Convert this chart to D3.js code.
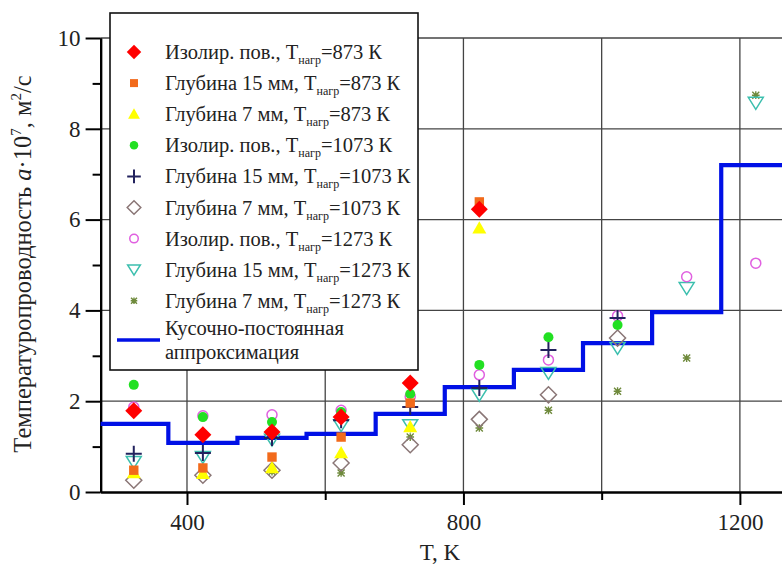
<!DOCTYPE html>
<html><head><meta charset="utf-8">
<script src="https://cdn.jsdelivr.net/npm/d3@7/dist/d3.min.js"></script>
<style>body{margin:0;background:#fff}svg{display:block}</style>
</head><body>
<svg id="c" width="782" height="567"></svg>
<script>
// ---- data ----
const temps = [323, 423, 523, 623, 723, 823, 923, 1023, 1123, 1223];
const isol873  = [1.79, 1.26, 1.32, 1.65, 2.40, 6.23, null, null, null, null];
const d15_873  = [0.48, 0.53, 0.77, 1.21, 1.96, 6.39, null, null, null, null];
const d7_873   = [0.42, 0.40, 0.53, 0.86, 1.43, 5.81, null, null, null, null];
const isol1073 = [2.36, 1.65, 1.54, 1.76, 2.16, 2.80, 3.41, 3.68, null, null];
const d15_1073 = [0.84, 0.86, 1.19, 1.58, 1.87, 2.29, 3.13, 3.83, null, null];
const d7_1073  = [0.26, 0.37, 0.48, 0.64, 1.04, 1.60, 2.14, 3.39, null, null];
const isol1273 = [1.87, 1.68, 1.70, 1.80, 2.10, 2.58, 2.91, 3.88, 4.74, 5.04];
const d15_1273 = [0.66, 0.77, 1.15, 1.47, 1.47, 2.14, 2.62, 3.17, 4.49, 8.57];
const d7_1273  = [0.42, 0.40, 0.45, 0.42, 1.21, 1.41, 1.80, 2.22, 2.95, 8.74];
const stepEdges  = [275, 373, 473, 573, 673, 773, 873, 973, 1073, 1173, 1300];
const stepLevels = [1.50, 1.08, 1.19, 1.28, 1.72, 2.31, 2.69, 3.28, 3.96, 7.20];
const xMajorTicks = [400, 800, 1200];
const xMinorTicks = [600, 1000];
const xGrid = [400, 600, 800, 1000, 1200];
const yMajorTicks = [0, 2, 4, 6, 8, 10];
const yMinorTicks = [1, 3, 5, 7, 9];
const labelPrefix = ["Изолир. пов., T", "Глубина 15 мм, T", "Глубина 7 мм, T",
                     "Изолир. пов., T", "Глубина 15 мм, T", "Глубина 7 мм, T",
                     "Изолир. пов., T", "Глубина 15 мм, T", "Глубина 7 мм, T"];
const labelTemp = ["=873 К", "=873 К", "=873 К", "=1073 К", "=1073 К", "=1073 К",
                   "=1273 К", "=1273 К", "=1273 К"];
const stepLabel = ["Кусочно-постоянная", "аппроксимация"];

const seriesValues = [isol873, d15_873, d7_873, isol1073, d15_1073, d7_1073, isol1273, d15_1273, d7_1273];
const styles = [
  {shape: "diamond", r: 8.5, fill: "#ff0000", stroke: "none"},
  {shape: "square", r: 4.7, fill: "#f26a1b", stroke: "none"},
  {shape: "triUp", r: 7, fill: "#ffff00", stroke: "none"},
  {shape: "circle", r: 5, fill: "#22e022", stroke: "none"},
  {shape: "plus", r: 8, fill: "none", stroke: "#22225e", sw: 2},
  {shape: "diamond", r: 8, fill: "none", stroke: "#8a7676", sw: 1.5},
  {shape: "circle", r: 5, fill: "none", stroke: "#e060e0", sw: 1.5},
  {shape: "triDown", r: 7.5, fill: "none", stroke: "#3cbfae", sw: 1.5},
  {shape: "star", r: 3.5, fill: "none", stroke: "#6f8a3c", sw: 1.4}
];

function shapePath(s, r) {
  switch (s) {
    case "diamond": return `M0,${-r}L${r},0L0,${r}L${-r},0Z`;
    case "square": return `M${-r},${-r}H${r}V${r}H${-r}Z`;
    case "triUp": return `M0,${-r}L${r*1.0},${r*0.75}L${-r*1.0},${r*0.75}Z`;
    case "triDown": return `M0,${r*0.85}L${r},${-r*0.75}L${-r},${-r*0.75}Z`;
    case "circle": return `M${r},0A${r},${r} 0 1 1 ${-r},0A${r},${r} 0 1 1 ${r},0Z`;
    case "plus": return `M${-r},0H${r}M0,${-r}V${r}`;
    case "star": return `M${-r},${-r}L${r},${r}M${-r},${r}L${r},${-r}M${-r*1.1},0H${r*1.1}M0,${-r*1.1}V${r*1.1}`;
  }
}

const svg = d3.select("#c");
const W = 782, H = 567;
const x = d3.scaleLinear().domain([275, 1300]).range([100.6, 809]);
const y = d3.scaleLinear().domain([0, 10]).range([492, 38]);
const FONT = "Liberation Serif";

const defs = svg.append("defs");
defs.append("clipPath").attr("id", "clip").append("rect")
  .attr("x", 100).attr("y", 30).attr("width", W - 100).attr("height", 462);

// grid
const g = svg.append("g");
g.selectAll(".vg").data(xGrid).join("line")
  .attr("x1", d => x(d)).attr("x2", d => x(d)).attr("y1", y(10)).attr("y2", y(0))
  .attr("stroke", "#444").attr("stroke-width", 1.3);
g.selectAll(".hg").data(yMajorTicks.filter(d => d > 0)).join("line")
  .attr("x1", x(275)).attr("x2", W).attr("y1", d => y(d)).attr("y2", d => y(d))
  .attr("stroke", "#444").attr("stroke-width", 1.3);

// axes
svg.append("g").attr("transform", `translate(0,${y(0)})`)
  .call(d3.axisBottom(x).tickValues(xMajorTicks).tickSize(13).tickSizeOuter(0).tickPadding(9).tickFormat(d3.format("d")));
svg.append("g").attr("transform", `translate(0,${y(0)})`)
  .call(d3.axisBottom(x).tickValues(xMinorTicks).tickSize(8).tickSizeOuter(0).tickFormat(""));
svg.append("g").attr("transform", `translate(${x(275)},0)`)
  .call(d3.axisLeft(y).tickValues(yMajorTicks).tickSize(15).tickSizeOuter(0).tickPadding(5).tickFormat(d3.format("d")));
svg.append("g").attr("transform", `translate(${x(275)},0)`)
  .call(d3.axisLeft(y).tickValues(yMinorTicks).tickSize(8).tickSizeOuter(0).tickFormat(""));
svg.selectAll(".domain").attr("stroke", "#000").attr("stroke-width", 2.2);
svg.selectAll(".tick line").attr("stroke", "#000").attr("stroke-width", 2);
svg.selectAll(".tick text").attr("font-family", FONT).attr("font-size", 23).attr("fill", "#222");

// step line
const stepPts = stepLevels.map((v, i) => [stepEdges[i], v]).concat([[stepEdges[stepEdges.length - 1], stepLevels[stepLevels.length - 1]]]);
svg.append("path").attr("clip-path", "url(#clip)")
  .attr("d", d3.line().x(d => x(d[0])).y(d => y(d[1])).curve(d3.curveStepAfter)(stepPts))
  .attr("fill", "none").attr("stroke", "#0010e6").attr("stroke-width", 4.2);

// points (last series drawn first)
for (let i = seriesValues.length - 1; i >= 0; i--) {
  const st = styles[i];
  const pts = temps.map((t, j) => [t, seriesValues[i][j]]).filter(d => d[1] != null);
  svg.append("g").attr("clip-path", "url(#clip)").selectAll("path").data(pts).join("path")
    .attr("transform", d => `translate(${x(d[0])},${y(d[1])})`)
    .attr("d", shapePath(st.shape, st.r))
    .attr("fill", st.fill).attr("stroke", st.stroke).attr("stroke-width", st.sw || 0);
}

// legend
const lg = svg.append("g");
lg.append("rect").attr("x", 110).attr("y", 13).attr("width", 308).attr("height", 357)
  .attr("fill", "#fff").attr("stroke", "#111").attr("stroke-width", 1.6);
labelPrefix.forEach((p, i) => {
  const yy = 52 + i * 31.1;
  const st = styles[i];
  const k = 0.85;
  lg.append("path").attr("transform", `translate(134,${yy})`)
    .attr("d", shapePath(st.shape, st.r * k))
    .attr("fill", st.fill).attr("stroke", st.stroke).attr("stroke-width", st.sw || 0);
  const t = lg.append("text").attr("x", 165).attr("y", yy + 7)
    .attr("font-family", FONT).attr("font-size", 20.5).attr("fill", "#222");
  t.append("tspan").text(p);
  t.append("tspan").attr("font-size", 12).attr("dy", 5).text("нагр");
  t.append("tspan").attr("dy", -5).text(labelTemp[i]);
});
lg.append("line").attr("x1", 117).attr("x2", 160).attr("y1", 340).attr("y2", 340)
  .attr("stroke", "#0010e6").attr("stroke-width", 3.5);
stepLabel.forEach((s, i) => {
  lg.append("text").attr("x", 165).attr("y", 335 + i * 24)
    .attr("font-family", FONT).attr("font-size", 20.5).attr("fill", "#222").text(s);
});

// axis titles
svg.append("text").attr("x", 440).attr("y", 560).attr("text-anchor", "middle")
  .attr("font-family", FONT).attr("font-size", 23).attr("fill", "#222").text("T, K");
const yl = svg.append("text").attr("transform", "translate(31,264) rotate(-90)")
  .attr("text-anchor", "middle").attr("font-family", FONT).attr("font-size", 24.5).attr("fill", "#222");
yl.append("tspan").text("Температуропроводность ");
yl.append("tspan").attr("font-style", "italic").text("a");
yl.append("tspan").text("·10");
yl.append("tspan").attr("font-size", 15).attr("dy", -10).text("7");
yl.append("tspan").attr("dy", 10).text(", м");
yl.append("tspan").attr("font-size", 15).attr("dy", -10).text("2");
yl.append("tspan").attr("dy", 10).text("/с");
</script>
</body></html>
